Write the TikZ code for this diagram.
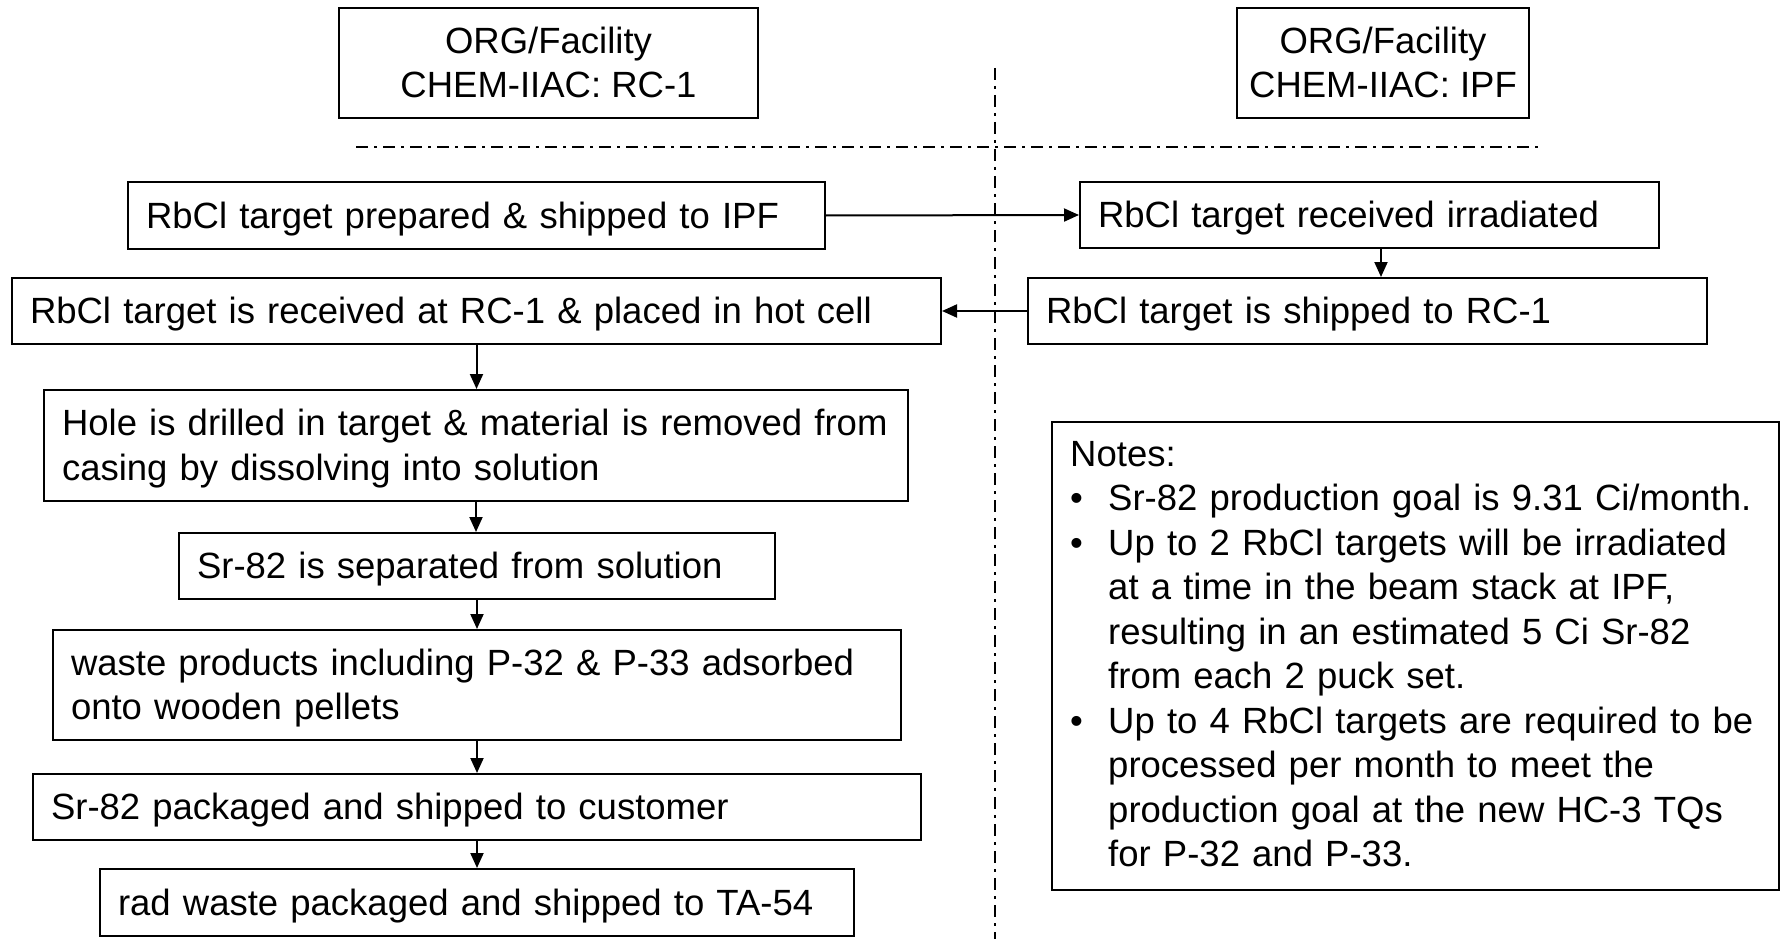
\documentclass[tikz,border=0pt]{standalone}
\usepackage{fontspec}
\setmainfont{Liberation Sans}
\usetikzlibrary{arrows.meta}

% line strut with the font's full ascent and descent, for even vertical centring
\newcommand\lnstrut{\rule[-0.212em]{0pt}{1.117em}}

\tikzset{
  box/.style={draw, line width=2pt, rectangle, anchor=north west,
              inner xsep=18pt, inner ysep=0pt, align=left},
  hdr/.style={draw, line width=2pt, rectangle, anchor=north west,
              inner sep=0pt, align=center},
  frame/.style={draw, line width=2pt, rectangle, anchor=north west, inner sep=0pt},
  flow/.style={line width=2pt, -{Triangle[length=15pt,width=13pt]}},
  divider/.style={line width=2pt, dash pattern=on 12pt off 6pt on 3pt off 6pt},
}

\begin{document}
\begin{tikzpicture}[x=1pt, y=-1pt, font=\fontsize{36.5}{44.5}\selectfont]
\useasboundingbox (0,0) rectangle (1781,939);

% column headers
\node[hdr, minimum width=419pt, minimum height=110pt] (hdrL) at (338,7)
  {\lnstrut ORG/Facility\\\lnstrut CHEM-IIAC: RC-1};
\node[hdr, minimum width=292pt, minimum height=110pt] (hdrR) at (1236,7)
  {\lnstrut ORG/Facility\\\lnstrut CHEM-IIAC: IPF};

% dividers between the two organisations
\coordinate (vtop) at (995,68);
\coordinate (vbot) at (995,939);
\coordinate (hl) at (356,147);
\coordinate (hr) at (1540,147);
\draw[divider] (vtop) -- (vbot);
\draw[divider] (hl) -- (hr);

% RC-1 / IPF exchange
\node[box, minimum height=67pt, text width=661pt] (prep) at (127,181)
  {\mbox{\lnstrut RbCl target prepared \& shipped to IPF}};
\node[box, minimum height=66pt, text width=543pt] (recv) at (1079,181)
  {\mbox{\lnstrut RbCl target received irradiated}};
\node[box, minimum height=66pt, text width=643pt] (ship) at (1027,277)
  {\mbox{\lnstrut RbCl target is shipped to RC-1}};
\node[box, minimum height=66pt, text width=893pt] (rc1) at (11,277)
  {\mbox{\lnstrut RbCl target is received at RC-1 \& placed in hot cell}};

% processing at RC-1
\node[box, minimum height=111pt, text width=828pt] (hole) at (43,389)
  {\mbox{\lnstrut Hole is drilled in target \& material is removed from}\\
   \mbox{\lnstrut casing by dissolving into solution}};
\node[box, minimum height=66pt, text width=560pt] (sep) at (178,532)
  {\mbox{\lnstrut Sr-82 is separated from solution}};
\node[box, minimum height=110pt, text width=812pt] (waste) at (52,629)
  {\mbox{\lnstrut waste products including P-32 \& P-33 adsorbed}\\
   \mbox{\lnstrut onto wooden pellets}};
\node[box, minimum height=66pt, text width=852pt] (pack) at (32,773)
  {\mbox{\lnstrut Sr-82 packaged and shipped to customer}};
\node[box, minimum height=67pt, text width=718pt] (rad) at (99,868)
  {\mbox{\lnstrut rad waste packaged and shipped to TA-54}};

% connectors
\coordinate (dropx) at (1381,0);
\draw[flow] (prep.east) -- (recv.west);
\draw[flow] (dropx |- recv.south) -- (dropx |- ship.north);
\draw[flow] (ship.west) -- (rc1.east);
\draw[flow] (rc1.south) -- (rc1.south |- hole.north);
\draw[flow] (hole.south) -- (hole.south |- sep.north);
\draw[flow] (sep.south) -- (sep.south |- waste.north);
\draw[flow] (waste.south) -- (waste.south |- pack.north);
\draw[flow] (pack.south) -- (pack.south |- rad.north);

% notes
\node[frame, minimum width=727pt, minimum height=468pt] (notes) at (1051,421) {};
\node[anchor=north west, inner sep=0pt, text width=700pt, align=left] (notestext) at (1070,441)
  {Notes:\\
   \makebox[38pt][l]{•}Sr-82 production goal is 9.31 Ci/month.\\
   \makebox[38pt][l]{•}Up to 2 RbCl targets will be irradiated\\
   \hspace*{38pt}at a time in the beam stack at IPF,\\
   \hspace*{38pt}resulting in an estimated 5 Ci Sr-82\\
   \hspace*{38pt}from each 2 puck set.\\
   \makebox[38pt][l]{•}Up to 4 RbCl targets are required to be\\
   \hspace*{38pt}processed per month to meet the\\
   \hspace*{38pt}production goal at the new HC-3 TQs\\
   \hspace*{38pt}for P-32 and P-33.};
\end{tikzpicture}
\end{document}
